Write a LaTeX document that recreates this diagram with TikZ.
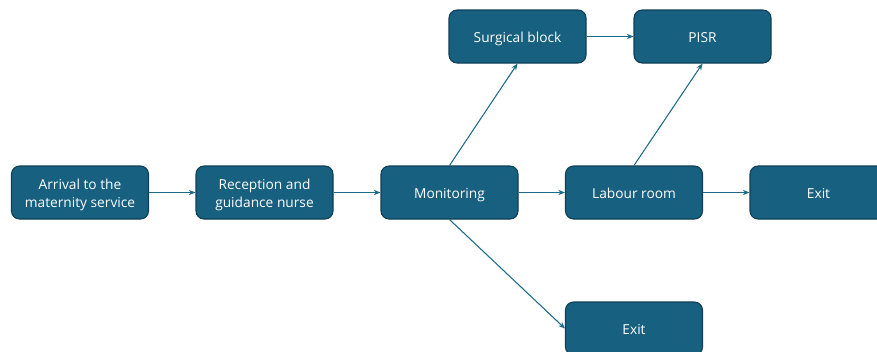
\documentclass[tikz,border=0pt]{standalone}
\usepackage{fontspec}
\setmainfont{Open Sans}
\usepackage{tikz}
\usetikzlibrary{arrows.meta}
\definecolor{boxfill}{HTML}{176080}
\definecolor{boxline}{HTML}{0F3F55}
\definecolor{arrowcol}{HTML}{1D6A8A}
\newcommand{\linetop}{\rule{0pt}{11pt}}

\begin{document}
\begin{tikzpicture}[x=0.75pt,y=-0.75pt,
    stage/.style={shape=rectangle,rounded corners=6pt,draw=boxline,line width=0.8pt,fill=boxfill,
        text=white,align=center,minimum width=102.75pt,minimum height=39.75pt,
        inner sep=2pt,font=\fontsize{10.3}{13.5}\selectfont},
    flow/.style={draw=arrowcol,line width=0.8pt,-{Stealth[length=5pt,width=4pt]}}]
    \useasboundingbox (0,0) rectangle (877,351);
    \node[stage] (arrival) at (80,192.5){\linetop Arrival to the\\maternity service};
    \node[stage] (reception) at (264.5,192.5){\linetop Reception and\\guidance nurse};
    \node[stage] (monitoring) at (449.5,192.5){\linetop Monitoring\rule[-2.6pt]{0pt}{2.6pt}};
    \node[stage] (labour) at (634,192.5){\linetop Labour room\rule[-2.6pt]{0pt}{2.6pt}};
    \node[stage] (exitA) at (818.5,192.5){\linetop Exit\rule[-2.6pt]{0pt}{2.6pt}};
    \node[stage] (exitB) at (634,328.5){\linetop Exit\rule[-2.6pt]{0pt}{2.6pt}};
    \node[stage] (surgical) at (517.5,36.5){\linetop Surgical block\rule[-2.6pt]{0pt}{2.6pt}};
    \node[stage] (pisr) at (702.5,36.5){\linetop PISR\rule[-2.6pt]{0pt}{2.6pt}};
    \path (arrival) edge[flow] (reception);
    \path (reception) edge[flow] (monitoring);
    \path (monitoring) edge[flow] (labour);
    \path (labour) edge[flow] (exitA);
    \path (surgical) edge[flow] (pisr);
    \path (monitoring.north) edge[flow] (surgical.south);
    \path (labour.north) edge[flow] (pisr.south);
    \path (monitoring.south) edge[flow] (exitB.west);
\end{tikzpicture}
\end{document}
